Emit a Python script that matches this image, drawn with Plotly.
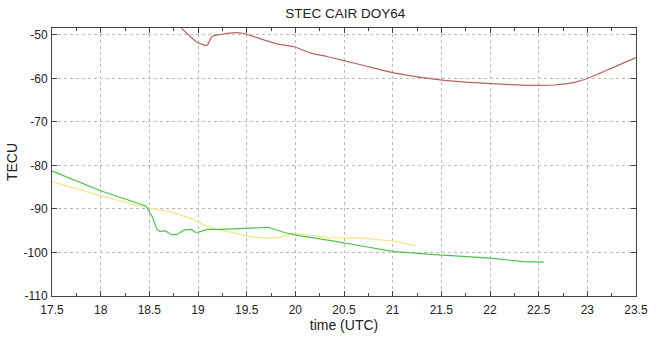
import plotly.graph_objects as go

red_t = [18.828, 18.987, 19.092, 19.142, 19.225, 19.358, 19.457, 19.589, 19.821, 19.986,
         20.152, 20.334, 20.682, 21.013, 21.510, 22.007, 22.503, 22.668, 22.867, 23.0, 23.232, 23.497]
red_v = [-48.4, -51.6, -52.4, -50.4, -49.9, -49.5, -49.6, -50.5, -52.1, -52.7,
         -54.1, -55.0, -56.9, -58.7, -60.4, -61.2, -61.6, -61.5, -60.9, -60.0, -57.8, -55.2]

green_t = [17.503, 18.0, 18.464, 18.530, 18.580, 18.613, 18.66, 18.729, 18.78, 18.861, 18.93,
           18.977, 19.027, 19.092, 19.225, 19.39, 19.556, 19.722, 19.887, 20.053, 20.351,
           20.682, 21.013, 21.510, 22.007, 22.338, 22.553]
green_v = [-81.3, -85.8, -89.3, -91.8, -94.8, -95.2, -95.0, -95.9, -95.9, -94.8, -94.7,
           -95.4, -95.2, -94.7, -94.7, -94.6, -94.4, -94.2, -95.4, -96.2, -97.2,
           -98.5, -99.8, -100.6, -101.3, -102.1, -102.2]

yellow_t = [17.503, 18.0, 18.397, 18.729, 18.927, 19.06, 19.19, 19.39, 19.556, 19.722,
            19.854, 19.986, 20.35, 20.682, 21.013, 21.228]
yellow_v = [-83.7, -87.0, -89.3, -90.7, -92.2, -93.7, -94.7, -95.7, -96.4, -96.7,
            -96.4, -95.6, -96.6, -96.7, -97.4, -98.4]

x_ticks = [17.5, 18, 18.5, 19, 19.5, 20, 20.5, 21, 21.5, 22, 22.5, 23, 23.5]
y_ticks = [-50, -60, -70, -80, -90, -100, -110]

FONT = "Liberation Sans, Arial"

fig = go.Figure()
fig.add_trace(go.Scatter(x=yellow_t, y=yellow_v, mode="lines",
                         line=dict(color="#f2e68a", width=1.3), showlegend=False))
fig.add_trace(go.Scatter(x=green_t, y=green_v, mode="lines",
                         line=dict(color="#4cc24c", width=1.2), showlegend=False))
fig.add_trace(go.Scatter(x=red_t, y=red_v, mode="lines",
                         line=dict(color="#b86565", width=1.2, shape="spline", smoothing=0.6),
                         showlegend=False))

axis_common = dict(showline=True, linecolor="#444", linewidth=1, mirror="ticks",
                   ticks="inside", ticklen=5, tickcolor="#444",
                   showgrid=True, gridcolor="#bbbbbb", griddash="dot", gridwidth=1,
                   zeroline=False, tickfont=dict(family=FONT, size=12, color="#222"))

fig.update_xaxes(range=[17.5, 23.5], tickvals=x_ticks, ticktext=[f"{v:g}" for v in x_ticks],
                 ticklabelstandoff=3,
                 title=dict(text="time (UTC)", font=dict(family=FONT, size=14, color="#222"), standoff=2),
                 minor=dict(dtick=0.25, tick0=17.5, ticks="inside", ticklen=3, tickcolor="#444", showgrid=False),
                 **axis_common)
fig.update_yaxes(range=[-110, -48.4], tickvals=y_ticks, ticktext=[str(v) for v in y_ticks],
                 ticklabelstandoff=1,
                 title=dict(text="TECU", font=dict(family=FONT, size=14, color="#222"), standoff=2),
                 **axis_common)

fig.update_layout(width=660, height=341, margin=dict(l=43, r=13, t=28, b=35),
                  paper_bgcolor="white", plot_bgcolor="white",
                  title=dict(text="STEC CAIR DOY64", x=0.523, xanchor="center", y=0.96, yanchor="middle",
                             font=dict(family=FONT, size=13.5, color="#222")))

fig.write_html("out.html")
